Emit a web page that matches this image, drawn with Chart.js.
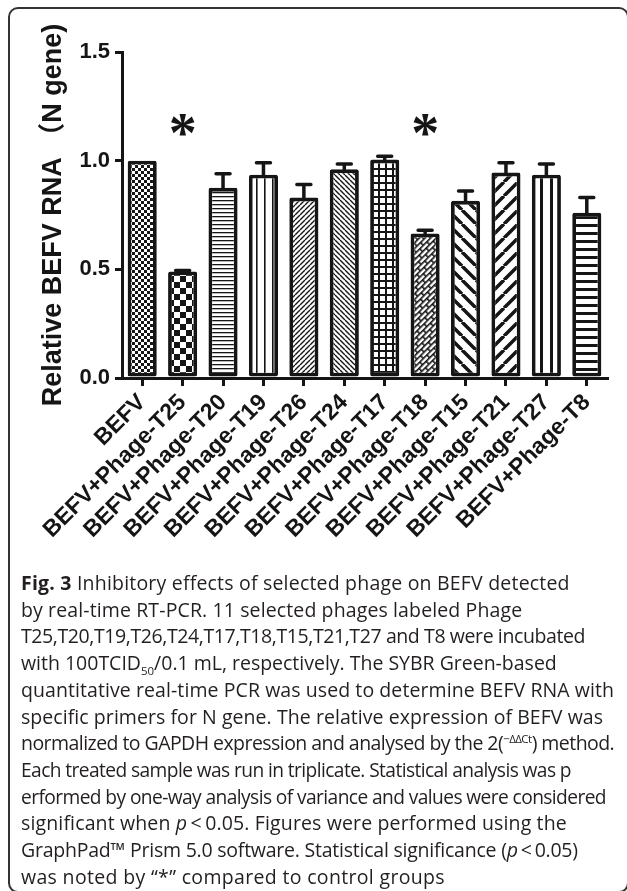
<!DOCTYPE html>
<html lang="en">
<head>
<meta charset="UTF-8">
<title>Fig. 3</title>
<script src="https://cdn.jsdelivr.net/npm/chart.js@4.4.1/dist/chart.umd.min.js"></script>
<style>
    html, body { margin: 0; padding: 0; background: #fff; }
    body { width: 627px; height: 891px; position: relative; overflow: hidden; }
    #marco {
        position: absolute; left: 8px; top: 7px; width: 621px; height: 886px;
        box-sizing: border-box; border: 2px solid #333; border-radius: 10px;
    }
    #contenedor { position: absolute; left: 0; top: 0; width: 627px; height: 570px; }
    #leyenda {
        position: absolute; left: 21px; top: 570px;
        font-family: "Open Sans", "Noto Sans", sans-serif; font-size: 19.5px;
        line-height: 26.7px; color: #231f20;
    }
    #leyenda div { white-space: nowrap; }
    #leyenda span { display: inline-block; transform-origin: 0 50%; }
    #leyenda sub, #leyenda sup { font-size: 11.5px; line-height: 0; }
</style>
</head>
<body>
<div id="marco"></div>
<div id="contenedor"><canvas id="grafico"></canvas></div>
<div id="leyenda"></div>

<script>
// Datos
const categorias = [
    'BEFV', 'BEFV+Phage-T25', 'BEFV+Phage-T20', 'BEFV+Phage-T19', 'BEFV+Phage-T26',
    'BEFV+Phage-T24', 'BEFV+Phage-T17', 'BEFV+Phage-T18', 'BEFV+Phage-T15',
    'BEFV+Phage-T21', 'BEFV+Phage-T27', 'BEFV+Phage-T8'
];
const valores = [1.00, 0.49, 0.875, 0.935, 0.83, 0.96, 1.005, 0.665, 0.815, 0.945, 0.935, 0.76];
const errores = [0, 0.005, 0.065, 0.055, 0.06, 0.025, 0.015, 0.015, 0.045, 0.045, 0.05, 0.07];
const significativos = [false, true, false, false, false, false, false, true, false, false, false, false];
const nivelAsterisco = 1.16;
const ticksY = [0, 0.5, 1.0, 1.5];
const tituloY = 'Relative BEFV RNA （N gene)';

// Relleno de cada barra (estilo, no datos)
const rellenos = [
    'puntos', 'damero', 'lineasH', 'lineasV', 'diagSube', 'diagBaja',
    'cuadricula', 'ladrillo', 'diagBajaAncha', 'diagSubeAncha', 'franjasV', 'lineasHGruesas'
];

// Texto del pie de figura, una línea por entrada
const lineasPie = [
    '<b>Fig. 3</b> Inhibitory effects of selected phage on BEFV detected',
    'by real-time RT-PCR. 11 selected phages labeled Phage',
    'T25,T20,T19,T26,T24,T17,T18,T15,T21,T27 and T8 were incubated',
    'with 100TCID<sub>50</sub>/0.1 mL, respectively. The SYBR Green-based',
    'quantitative real-time PCR was used to determine BEFV RNA with',
    'specific primers for N gene. The relative expression of BEFV was',
    'normalized to GAPDH expression and analysed by the 2(<sup>−ΔΔCt</sup>) method.',
    'Each treated sample was run in triplicate. Statistical analysis was p',
    'erformed by one-way analysis of variance and values were considered',
    'significant when <i>p</i>&thinsp;&lt;&thinsp;0.05. Figures were performed using the',
    'GraphPad™ Prism 5.0 software. Statistical significance (<i>p</i>&thinsp;&lt;&thinsp;0.05)',
    'was noted by “*” compared to control groups'
];
// Borde derecho aproximado de cada línea
const finLinea = [570, 522, 585, 557, 614, 603, 614, 571, 606, 567, 578, 445];

const TINTA = '#151515';
const FUENTE = '"Liberation Sans", Arial, "Noto Sans CJK SC", sans-serif';

// Líneas diagonales dentro de un mosaico cuadrado
function diagonales(g, s, ancho, sube) {
    g.strokeStyle = TINTA;
    g.lineWidth = ancho;
    g.beginPath();
    for (let k = -1; k <= 1; k++) {
        if (sube) { g.moveTo(k * s, s); g.lineTo(k * s + s, 0); }
        else      { g.moveTo(k * s, 0); g.lineTo(k * s + s, s); }
    }
    g.stroke();
}

function crearPatron(tipo) {
    const c = document.createElement('canvas');
    const g = c.getContext('2d');
    let w = 8, h = 8;
    if (tipo === 'puntos') { w = h = 6; }
    if (tipo === 'damero') { w = h = 12; }
    if (tipo === 'lineasH') { w = 4; h = 4; }
    if (tipo === 'lineasV') { w = 8; h = 4; }
    if (tipo === 'diagSube' || tipo === 'diagBaja') { w = h = 5; }
    if (tipo === 'cuadricula') { w = h = 7; }
    if (tipo === 'ladrillo') { w = 10; h = 8; }
    if (tipo === 'diagBajaAncha' || tipo === 'diagSubeAncha') { w = h = 14; }
    if (tipo === 'franjasV') { w = 10; h = 4; }
    if (tipo === 'lineasHGruesas') { w = 4; h = 8; }
    c.width = w; c.height = h;
    g.fillStyle = '#fff';
    g.fillRect(0, 0, w, h);
    g.fillStyle = TINTA;

    switch (tipo) {
        case 'puntos':
            g.fillRect(0, 0, 3, 3); g.fillRect(3, 3, 3, 3);
            break;
        case 'damero':
            g.fillRect(0, 0, 6, 6); g.fillRect(6, 6, 6, 6);
            break;
        case 'lineasH':
            g.fillRect(0, 0, w, 1.3);
            break;
        case 'lineasV':
            g.fillRect(0, 0, 1.6, h);
            break;
        case 'diagSube':
            diagonales(g, w, 1.4, true);
            break;
        case 'diagBaja':
            diagonales(g, w, 1.4, false);
            break;
        case 'cuadricula':
            g.fillRect(0, 0, w, 2); g.fillRect(0, 0, 2, h);
            break;
        case 'ladrillo':
            g.fillRect(0, 0, w, 1.6); g.fillRect(0, 4, w, 1.6);
            g.fillRect(0, 0, 1.6, 4); g.fillRect(5, 4, 1.6, 4);
            break;
        case 'diagBajaAncha':
            diagonales(g, w, 3.5, false);
            break;
        case 'diagSubeAncha':
            diagonales(g, w, 3.5, true);
            break;
        case 'franjasV':
            g.fillRect(0, 0, 3, h);
            break;
        case 'lineasHGruesas':
            g.fillRect(0, 0, w, 3);
            break;
    }
    const patron = g.createPattern(c, 'repeat');
    if (tipo === 'ladrillo') patron.setTransform(new DOMMatrix().rotate(-45));
    return patron;
}

// Barras de error (solo hacia arriba, como en Prism)
const pluginErrores = {
    id: 'barrasError',
    afterDatasetsDraw(chart) {
        const { ctx, scales: { y } } = chart;
        const meta = chart.getDatasetMeta(0);
        ctx.save();
        ctx.strokeStyle = TINTA;
        ctx.lineWidth = 3.5;
        ctx.lineCap = 'round';
        meta.data.forEach((barra, i) => {
            if (!errores[i]) return;
            const yTop = y.getPixelForValue(valores[i] + errores[i]);
            ctx.beginPath();
            ctx.moveTo(barra.x, barra.y);
            ctx.lineTo(barra.x, yTop);
            ctx.moveTo(barra.x - 7, yTop);
            ctx.lineTo(barra.x + 7, yTop);
            ctx.stroke();
        });
        ctx.restore();
    }
};

// Asteriscos de significancia
const pluginAsteriscos = {
    id: 'asteriscos',
    afterDatasetsDraw(chart) {
        const { ctx, scales: { x, y } } = chart;
        const tam = 56;
        ctx.save();
        ctx.fillStyle = TINTA;
        ctx.font = `bold ${tam}px "Liberation Serif", "Times New Roman", serif`;
        ctx.textAlign = 'center';
        ctx.textBaseline = 'alphabetic';
        significativos.forEach((marcado, i) => {
            if (!marcado) return;
            const cx = x.getPixelForValue(i);
            const cy = y.getPixelForValue(nivelAsterisco);
            ctx.fillText('*', cx, cy + tam * 0.47);
        });
        ctx.restore();
    }
};

function dibujarGrafico() {
    const ctx = document.getElementById('grafico').getContext('2d');
    new Chart(ctx, {
        type: 'bar',
        data: {
            labels: categorias,
            datasets: [{
                data: valores,
                backgroundColor: rellenos.map(crearPatron),
                borderColor: TINTA,
                borderWidth: 3.8,
                borderRadius: 2,
                borderSkipped: false,
                barPercentage: 0.72,
                categoryPercentage: 1.0
            }]
        },
        options: {
            responsive: true,
            maintainAspectRatio: false,
            animation: false,
            events: [],
            layout: { padding: { top: 52, right: 20, bottom: 0, left: 0 } },
            plugins: {
                legend: { display: false },
                tooltip: { enabled: false }
            },
            scales: {
                x: {
                    offset: true,
                    afterFit: s => { s.height = 570 - 378; },
                    grid: {
                        offset: false, drawOnChartArea: false, drawTicks: true,
                        tickLength: 8, lineWidth: 3, color: TINTA
                    },
                    border: { display: true, width: 3, color: TINTA },
                    ticks: {
                        autoSkip: false, maxRotation: 45, minRotation: 45, padding: 3,
                        color: TINTA, font: { family: FUENTE, size: 23, weight: 'bold' }
                    }
                },
                y: {
                    min: 0,
                    max: 1.5,
                    afterFit: s => { s.width = 122; },
                    afterBuildTicks: s => { s.ticks = ticksY.map(v => ({ value: v })); },
                    grid: {
                        drawOnChartArea: false, drawTicks: true,
                        tickLength: 7, lineWidth: 3, color: TINTA
                    },
                    border: { display: true, width: 3, color: TINTA },
                    ticks: {
                        padding: 5, color: TINTA,
                        font: { family: FUENTE, size: 22, weight: 'bold' },
                        callback: v => Number(v).toFixed(1)
                    },
                    title: {
                        display: true, text: tituloY, color: TINTA,
                        font: { family: FUENTE, size: 27, weight: 'bold' },
                        padding: { top: 37, bottom: 0 }
                    }
                }
            }
        },
        plugins: [pluginErrores, pluginAsteriscos]
    });
}

// Pie de figura: cada línea se ajusta a su ancho con letter-spacing y, si no basta, escala horizontal
function armarPie() {
    const pie = document.getElementById('leyenda');
    lineasPie.forEach((html, i) => {
        const div = document.createElement('div');
        const span = document.createElement('span');
        span.innerHTML = html;
        div.appendChild(span);
        pie.appendChild(div);
        const objetivo = finLinea[i] - 21;
        const natural = span.getBoundingClientRect().width;
        const letras = span.textContent.length;
        let tracking = (objetivo - natural) / letras;
        tracking = Math.max(-0.6, Math.min(1.2, tracking));
        span.style.letterSpacing = tracking.toFixed(2) + 'px';
        const ajustado = span.getBoundingClientRect().width;
        if (Math.abs(ajustado - objetivo) > 1) {
            span.style.transform = `scaleX(${(objetivo / ajustado).toFixed(4)})`;
        }
    });
}

armarPie();
dibujarGrafico();
</script>
</body>
</html>
